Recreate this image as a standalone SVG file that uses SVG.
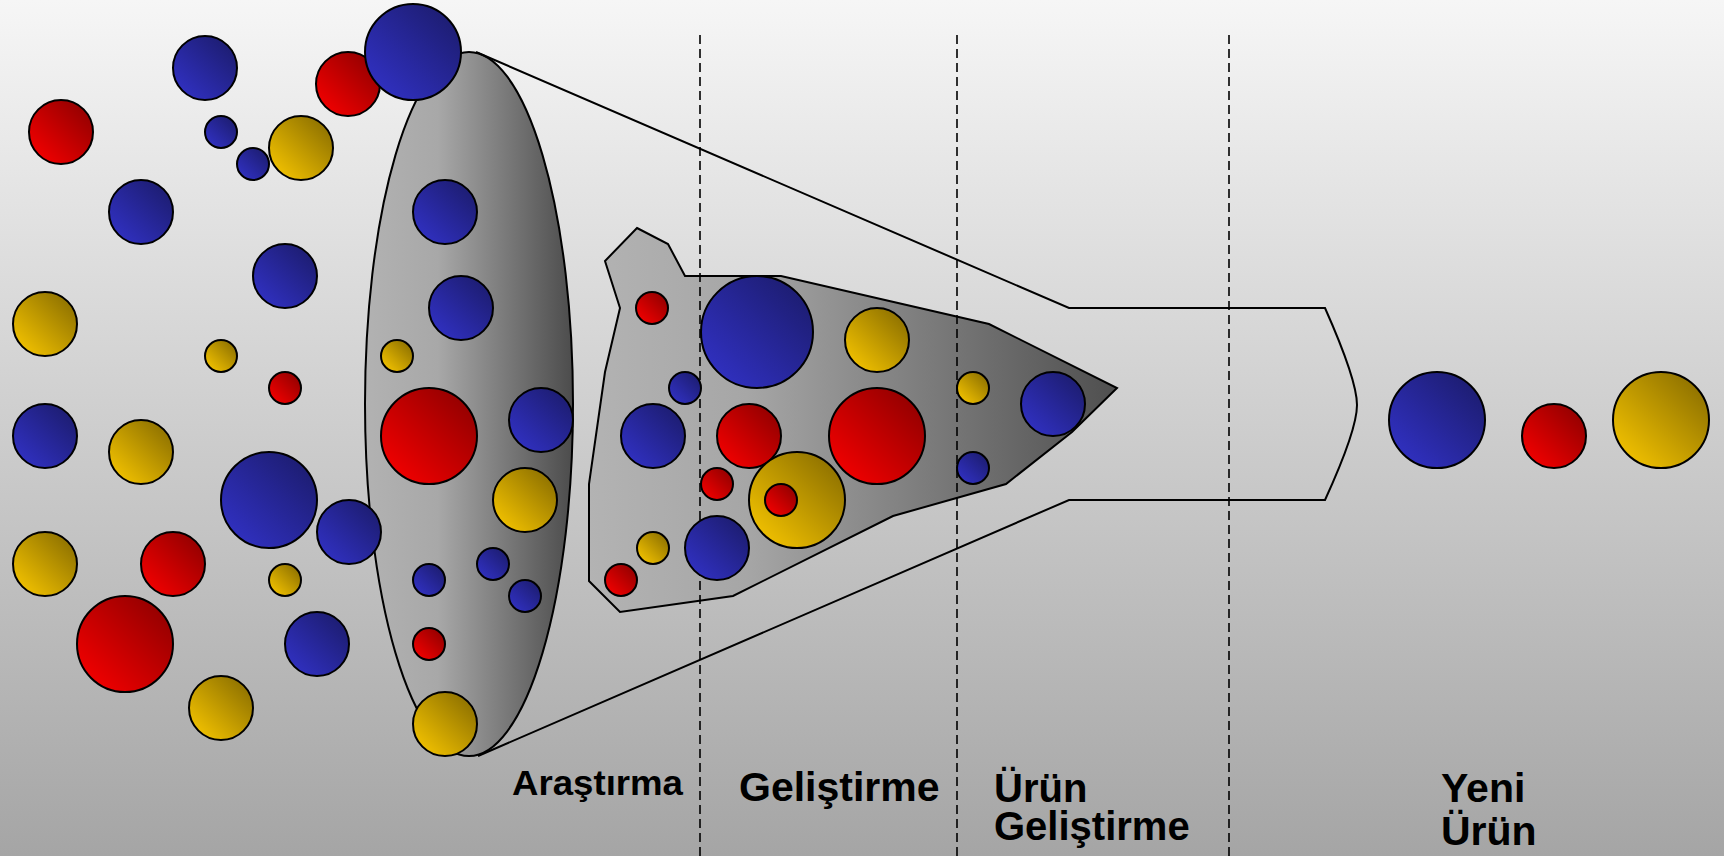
<svg xmlns="http://www.w3.org/2000/svg" width="1724" height="856" viewBox="0 0 1724 856">
<defs>
<linearGradient id="bg" x1="0" y1="0" x2="0" y2="1">
<stop offset="0" stop-color="#f6f6f6"/>
<stop offset="1" stop-color="#a5a5a5"/>
</linearGradient>
<linearGradient id="ge" gradientUnits="userSpaceOnUse" x1="365" y1="0" x2="573" y2="0">
<stop offset="0" stop-color="#b2b2b2"/>
<stop offset="0.35" stop-color="#a8a8a8"/>
<stop offset="1" stop-color="#4c4c4c"/>
</linearGradient>
<linearGradient id="gp" gradientUnits="userSpaceOnUse" x1="589" y1="0" x2="1117" y2="0">
<stop offset="0" stop-color="#b3b3b3"/>
<stop offset="0.3" stop-color="#a6a6a6"/>
<stop offset="1" stop-color="#4f4f4f"/>
</linearGradient>
<linearGradient id="gb" x1="0" y1="1" x2="1" y2="0">
<stop offset="0" stop-color="#3333cc"/>
<stop offset="1" stop-color="#1a1a66"/>
</linearGradient>
<linearGradient id="gr" x1="0" y1="1" x2="1" y2="0">
<stop offset="0" stop-color="#ff0000"/>
<stop offset="1" stop-color="#860000"/>
</linearGradient>
<linearGradient id="gy" x1="0" y1="1" x2="1" y2="0">
<stop offset="0" stop-color="#ffcc00"/>
<stop offset="1" stop-color="#806600"/>
</linearGradient>
</defs>
<style>
.b{fill:url(#gb);stroke:#000;stroke-width:2}
.r{fill:url(#gr);stroke:#000;stroke-width:2}
.y{fill:url(#gy);stroke:#000;stroke-width:2}
.ln{fill:none;stroke:#000;stroke-width:2}
.dash{fill:none;stroke:#000;stroke-width:1.6;stroke-dasharray:9 5}
.t{font-family:"Liberation Sans",Arial,sans-serif;font-weight:bold;fill:#000}
</style>
<rect x="0" y="0" width="1724" height="856" fill="url(#bg)"/>

<g id="funnel-mouth">
<ellipse cx="469" cy="404" rx="104" ry="352" fill="url(#ge)" stroke="#000" stroke-width="2"/>
</g>

<g id="connectors">
<path class="ln" d="M476,52 L1069,308 L1325,308 Q1357,380 1357,405 Q1357,430 1325,500 L1069,500 L478,756"/>
</g>

<g id="inner-funnel">
<polygon points="637,228 668,244 685,276 781,276 989,324 1117,388 1072,432 1006,484 893,516 733,596 620,612 589,581 589,484 605,372 620,308 605,261" fill="url(#gp)" stroke="#000" stroke-width="2"/>
</g>

<g id="stage-dividers">
<line class="dash" x1="700" y1="35" x2="700" y2="856"/>
<line class="dash" x1="957" y1="35" x2="957" y2="856"/>
<line class="dash" x1="1229" y1="35" x2="1229" y2="856"/>
</g>

<g id="ideas">
<circle class="r" cx="348" cy="84" r="32"/>
<circle class="b" cx="413" cy="52" r="48"/>
<circle class="b" cx="205" cy="68" r="32"/>
<circle class="r" cx="61" cy="132" r="32"/>
<circle class="b" cx="221" cy="132" r="16"/>
<circle class="b" cx="253" cy="164" r="16"/>
<circle class="y" cx="301" cy="148" r="32"/>
<circle class="b" cx="141" cy="212" r="32"/>
<circle class="b" cx="285" cy="276" r="32"/>
<circle class="y" cx="45" cy="324" r="32"/>
<circle class="y" cx="221" cy="356" r="16"/>
<circle class="r" cx="285" cy="388" r="16"/>
<circle class="b" cx="45" cy="436" r="32"/>
<circle class="y" cx="141" cy="452" r="32"/>
<circle class="b" cx="269" cy="500" r="48"/>
<circle class="b" cx="349" cy="532" r="32"/>
<circle class="y" cx="45" cy="564" r="32"/>
<circle class="r" cx="173" cy="564" r="32"/>
<circle class="y" cx="285" cy="580" r="16"/>
<circle class="r" cx="125" cy="644" r="48"/>
<circle class="b" cx="317" cy="644" r="32"/>
<circle class="y" cx="221" cy="708" r="32"/>
</g>

<g id="research">
<circle class="b" cx="445" cy="212" r="32"/>
<circle class="b" cx="461" cy="308" r="32"/>
<circle class="y" cx="397" cy="356" r="16"/>
<circle class="r" cx="429" cy="436" r="48"/>
<circle class="b" cx="541" cy="420" r="32"/>
<circle class="y" cx="525" cy="500" r="32"/>
<circle class="b" cx="493" cy="564" r="16"/>
<circle class="b" cx="429" cy="580" r="16"/>
<circle class="b" cx="525" cy="596" r="16"/>
<circle class="r" cx="429" cy="644" r="16"/>
<circle class="y" cx="445" cy="724" r="32"/>
</g>

<g id="development">
<circle class="r" cx="652" cy="308" r="16"/>
<circle class="b" cx="685" cy="388" r="16"/>
<circle class="b" cx="653" cy="436" r="32"/>
<circle class="b" cx="757" cy="332" r="56"/>
<circle class="y" cx="877" cy="340" r="32"/>
<circle class="r" cx="749" cy="436" r="32"/>
<circle class="r" cx="877" cy="436" r="48"/>
<circle class="r" cx="717" cy="484" r="16"/>
<circle class="y" cx="797" cy="500" r="48"/>
<circle class="r" cx="781" cy="500" r="16"/>
<circle class="y" cx="653" cy="548" r="16"/>
<circle class="b" cx="717" cy="548" r="32"/>
<circle class="r" cx="621" cy="580" r="16"/>
</g>

<g id="product-development">
<circle class="y" cx="973" cy="388" r="16"/>
<circle class="b" cx="1053" cy="404" r="32"/>
<circle class="b" cx="973" cy="468" r="16"/>
</g>

<g id="new-products">
<circle class="b" cx="1437" cy="420" r="48"/>
<circle class="r" cx="1554" cy="436" r="32"/>
<circle class="y" cx="1661" cy="420" r="48"/>
</g>

<g id="labels">
<text class="t" x="512" y="795" font-size="35" textLength="171" lengthAdjust="spacingAndGlyphs">Araştırma</text>
<text class="t" x="739" y="801" font-size="41">Geliştirme</text>
<text class="t" font-size="40"><tspan x="994" y="802">Ürün</tspan><tspan x="994" y="840">Geliştirme</tspan></text>
<text class="t" font-size="41"><tspan x="1441" y="802">Yeni</tspan><tspan x="1441" y="845">Ürün</tspan></text>
</g>
</svg>
